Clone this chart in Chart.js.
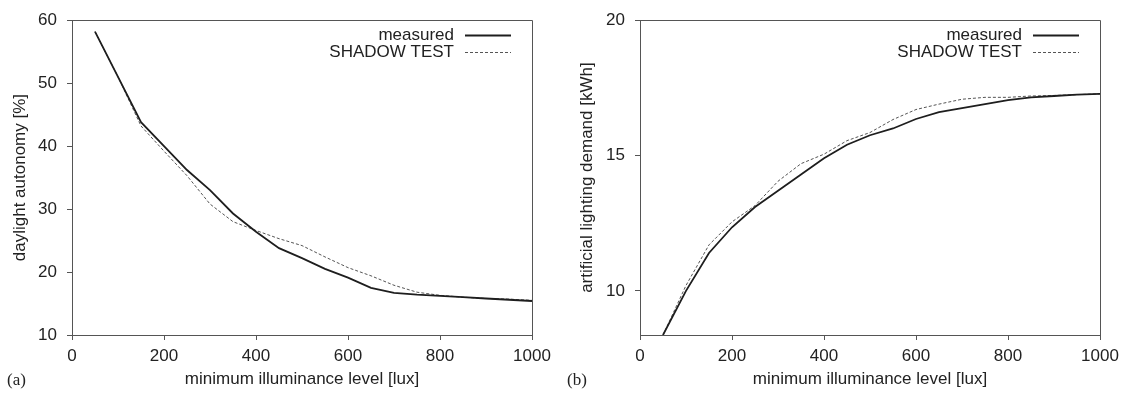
<!DOCTYPE html>
<html>
<head>
<meta charset="utf-8">
<script src="https://cdn.jsdelivr.net/npm/chart.js@4.4.1/dist/chart.umd.min.js"></script>
<style>
  html, body { margin: 0; padding: 0; background: #fff; }
  #wrap { position: relative; width: 1121px; height: 396px; }
  .panel { position: absolute; top: 0; height: 396px; }
</style>
</head>
<body>
<div id="wrap">
  <div class="panel" style="left:0;width:560px"><canvas id="chartA"></canvas></div>
  <div class="panel" style="left:560px;width:561px"><canvas id="chartB"></canvas></div>
</div>
<script>
// ---- data ----
var lux = [50, 100, 150, 200, 250, 300, 350, 400, 450, 500, 550, 600, 650, 700, 750, 800, 850, 900, 950, 1000];

// (a) daylight autonomy [%]
var autonomyMeasured = [58.2, 51.0, 43.8, 40.0, 36.2, 33.0, 29.3, 26.4, 23.8, 22.2, 20.5, 19.1, 17.5, 16.7, 16.4, 16.2, 16.0, 15.8, 15.6, 15.4];
var autonomyShadow   = [58.2, 51.0, 43.2, 39.2, 35.3, 30.8, 28.0, 26.6, 25.3, 24.2, 22.4, 20.7, 19.4, 17.9, 16.8, 16.3, 16.0, 15.8, 15.7, 15.5];

// (b) artificial lighting demand [kWh]
var demandMeasured = [8.37, 10.0, 11.4, 12.35, 13.1, 13.7, 14.3, 14.9, 15.4, 15.75, 16.0, 16.35, 16.6, 16.75, 16.9, 17.05, 17.15, 17.2, 17.25, 17.28];
var demandShadow   = [8.37, 10.2, 11.7, 12.55, 13.15, 14.05, 14.7, 15.05, 15.55, 15.85, 16.33, 16.7, 16.9, 17.08, 17.15, 17.15, 17.2, 17.22, 17.25, 17.28];

var xTicks = [0, 200, 400, 600, 800, 1000];
var autonomyTicks = [10, 20, 30, 40, 50, 60];
var demandTicks = [10, 15, 20];
var seriesNames = ['measured', 'SHADOW TEST'];

var INK = '#222';
var AXIS = '#555';
var SANS = "'Liberation Sans', Arial, sans-serif";

function toPoints(ys) {
  return lux.map(function(x, i) { return { x: x, y: ys[i] }; });
}

function plainLabel(v) { return String(v); }

// frame + in-plot legend + panel letter
function framePlugin(letter) {
  return {
    id: 'frame',
    afterDraw: function(chart) {
      var a = chart.chartArea, ctx = chart.ctx;
      ctx.save();
      ctx.strokeStyle = AXIS; ctx.lineWidth = 1;
      ctx.beginPath();
      ctx.moveTo(Math.round(a.left) + 0.5, Math.round(a.top) + 0.5);
      ctx.lineTo(Math.round(a.right) + 0.5, Math.round(a.top) + 0.5);
      ctx.lineTo(Math.round(a.right) + 0.5, Math.round(a.bottom) + 0.5);
      ctx.stroke();

      // legend
      ctx.font = '17px ' + SANS;
      ctx.fillStyle = INK;
      ctx.textAlign = 'right';
      ctx.textBaseline = 'middle';
      var rows = [a.top + 15, a.top + 32];
      chart.data.datasets.forEach(function(ds, i) {
        ctx.fillText(ds.label, a.right - 78, rows[i]);
        ctx.beginPath();
        ctx.strokeStyle = ds.borderColor;
        ctx.lineWidth = ds.borderWidth;
        ctx.setLineDash(ds.borderDash || []);
        ctx.moveTo(a.right - 67, Math.round(rows[i]) + 0.5);
        ctx.lineTo(a.right - 21, Math.round(rows[i]) + 0.5);
        ctx.stroke();
      });
      ctx.setLineDash([]);

      // panel letter
      ctx.font = "17px 'Liberation Serif', 'Times New Roman', serif";
      ctx.textAlign = 'left';
      ctx.fillText(letter, 7, 381);
      ctx.restore();
    }
  };
}

function buildPanel(canvasId, cfg) {
  return new Chart(document.getElementById(canvasId).getContext('2d'), {
    type: 'line',
    data: {
      datasets: [
        { label: seriesNames[0], data: toPoints(cfg.measured), borderColor: '#1e1e1e', borderWidth: 1.8, pointRadius: 0, fill: false, tension: 0 },
        { label: seriesNames[1], data: toPoints(cfg.shadow), borderColor: '#555', borderWidth: 1, borderDash: [3, 2], pointRadius: 0, fill: false, tension: 0 }
      ]
    },
    options: {
      responsive: true, maintainAspectRatio: false, animation: false,
      layout: { padding: { left: 0, top: 18, right: cfg.padRight, bottom: 0 } },
      plugins: { legend: { display: false }, tooltip: { enabled: false } },
      scales: {
        x: {
          type: 'linear', min: 0, max: 1000,
          afterBuildTicks: function(s) { s.ticks = xTicks.map(function(v) { return { value: v }; }); },
          afterFit: function(s) { s.height = 61; s.paddingLeft = 0; s.paddingRight = 0; },
          grid: { drawOnChartArea: false, tickLength: 5, color: AXIS },
          border: { color: AXIS, width: 1 },
          ticks: { color: INK, font: { family: SANS, size: 17 }, padding: 6, maxRotation: 0, callback: plainLabel },
          title: { display: true, text: 'minimum illuminance level [lux]', color: INK, font: { family: SANS, size: 17 }, padding: { top: 0, bottom: 6 } }
        },
        y: {
          min: cfg.yMin, max: cfg.yMax,
          afterBuildTicks: function(s) { s.ticks = cfg.yTicks.map(function(v) { return { value: v }; }); },
          afterFit: function(s) { s.width = cfg.yWidth; },
          grid: { drawOnChartArea: false, tickLength: 5, color: AXIS },
          border: { color: AXIS, width: 1 },
          ticks: { color: INK, font: { family: SANS, size: 17 }, padding: 10, callback: plainLabel },
          title: { display: true, text: cfg.yTitle, color: INK, font: { family: SANS, size: 17 }, padding: { top: cfg.yTitlePad, bottom: 0 } }
        }
      }
    },
    plugins: [framePlugin(cfg.letter)]
  });
}

buildPanel('chartA', {
  measured: autonomyMeasured, shadow: autonomyShadow,
  yMin: 10, yMax: 60, yTicks: autonomyTicks,
  yTitle: 'daylight autonomy [%]', yTitlePad: 10,
  yWidth: 72, padRight: 28, letter: '(a)'
});

buildPanel('chartB', {
  measured: demandMeasured, shadow: demandShadow,
  yMin: 8.37, yMax: 20, yTicks: demandTicks,
  yTitle: 'artificial lighting demand [kWh]', yTitlePad: 17,
  yWidth: 80, padRight: 21, letter: '(b)'
});
</script>
</body>
</html>
